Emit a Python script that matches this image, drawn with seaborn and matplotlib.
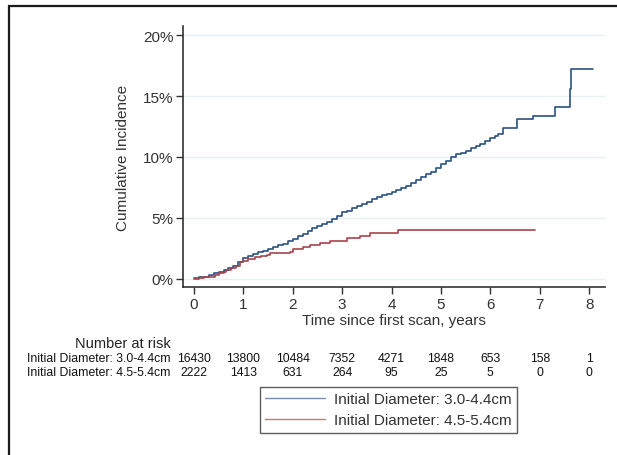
import matplotlib
matplotlib.use('Agg')
import matplotlib.pyplot as plt
import matplotlib.transforms as mtransforms
from matplotlib.patches import Rectangle
import seaborn as sns
import pandas as pd

# Cumulative incidence (%), steps-post
blue_t = [0.0, 0.1, 0.2, 0.3, 0.4, 0.5, 0.6, 0.7, 0.8, 0.9, 1.0, 1.1, 1.2, 1.3, 1.4, 1.5,
          1.6, 1.7, 1.8, 1.9, 2.0, 2.1, 2.2, 2.3, 2.4, 2.5, 2.6, 2.7, 2.8, 2.9, 3.0, 3.1,
          3.2, 3.3, 3.4, 3.5, 3.6, 3.7, 3.8, 3.9, 4.0, 4.1, 4.2, 4.3, 4.4, 4.5, 4.6, 4.7,
          4.8, 4.9, 5.0, 5.1, 5.2, 5.3, 5.4, 5.5, 5.6, 5.7, 5.8, 5.9, 6.0, 6.1, 6.15,
          6.26, 6.54, 6.86, 7.31, 7.62, 7.64, 8.08]
blue_ci = [0.08, 0.12, 0.2, 0.3, 0.45, 0.6, 0.72, 0.9, 1.1, 1.4, 1.7, 1.9, 2.05, 2.18, 2.3,
           2.45, 2.6, 2.75, 2.9, 3.1, 3.3, 3.5, 3.7, 3.95, 4.15, 4.35, 4.5, 4.65, 4.9, 5.2,
           5.45, 5.6, 5.85, 6.0, 6.15, 6.35, 6.55, 6.7, 6.85, 7.0, 7.15, 7.3, 7.45, 7.65,
           7.85, 8.1, 8.35, 8.6, 8.75, 9.1, 9.4, 9.7, 10.0, 10.25, 10.35, 10.5, 10.75,
           10.9, 11.1, 11.35, 11.55, 11.75, 11.9, 12.4, 13.1, 13.4, 14.07, 15.6, 17.2, 17.2]
red_t = [0.0, 0.1, 0.2, 0.32, 0.42, 0.5, 0.6, 0.66, 0.75, 0.85, 0.93, 1.0, 1.1, 1.23, 1.35,
         1.47, 1.54, 1.77, 1.94, 2.0, 2.2, 2.35, 2.55, 2.75, 2.9, 3.09, 3.36, 3.56, 4.13, 6.9]
red_ci = [0.0, 0.05, 0.12, 0.2, 0.35, 0.45, 0.6, 0.75, 0.9, 1.1, 1.35, 1.45, 1.6, 1.8, 1.9,
          1.97, 2.1, 2.15, 2.2, 2.46, 2.6, 2.8, 2.95, 3.1, 3.15, 3.35, 3.55, 3.77, 4.0, 4.0]

groups = ['Initial Diameter: 3.0-4.4cm', 'Initial Diameter: 4.5-5.4cm']
risk_times = [0, 1, 2, 3, 4, 5, 6, 7, 8]
risk_small = ['16430', '13800', '10484', '7352', '4271', '1848', '653', '158', '1']
risk_large = ['2222', '1413', '631', '264', '95', '25', '5', '0', '0']

df = pd.concat([
    pd.DataFrame({'t': blue_t, 'ci': blue_ci, 'group': groups[0]}),
    pd.DataFrame({'t': red_t, 'ci': red_ci, 'group': groups[1]}),
])

sns.set_style('white')
plt.rcParams['font.family'] = ['Liberation Sans', 'DejaVu Sans']

fig = plt.figure(figsize=(6.17, 4.56), dpi=100)
ax = fig.add_axes([183 / 617, 1 - 288 / 456, 422 / 617, 261 / 456])

sns.lineplot(data=df, x='t', y='ci', hue='group', palette=['#2a5283', '#a9434b'],
             drawstyle='steps-post', estimator=None, linewidth=1.2, ax=ax, legend=False)

ax.set_xlim(-0.22, 8.32)
ax.set_ylim(-0.66, 20.74)
ax.set_xticks(range(0, 9))
ax.set_yticks([0, 5, 10, 15, 20])
ax.set_yticklabels(['0%', '5%', '10%', '15%', '20%'])
ax.grid(axis='y', color='#e6eff1', linewidth=1)
ax.tick_params(direction='out', length=5, width=1, color='#333333', labelsize=11,
               labelcolor='#333333', left=True, bottom=True, pad=2)
for s in ['top', 'right']:
    ax.spines[s].set_visible(False)
for s in ['left', 'bottom']:
    ax.spines[s].set_color('#333333')
    ax.spines[s].set_linewidth(1.2)
ax.set_xlabel('Time since first scan, years', fontsize=11, color='#333333', labelpad=2)
ax.set_ylabel('Cumulative Incidence', fontsize=11, color='#333333', labelpad=9)

# Number at risk table
trans = mtransforms.blended_transform_factory(ax.transData, fig.transFigure)
fig.text(123 / 617, 1 - 344 / 456, 'Number at risk', fontsize=10.5, color='#222222',
         ha='center', va='center')
for row_y, label, counts in [(359, groups[0], risk_small), (373, groups[1], risk_large)]:
    fig.text(27 / 617, 1 - row_y / 456, label, fontsize=8.8, ha='left', va='center',
             color='#111111')
    for t, c in zip(risk_times, counts):
        ax.text(t, 1 - row_y / 456, c, transform=trans, fontsize=8.8, ha='center',
                va='center', color='#111111')

# Legend
handles = [plt.Line2D([], [], color='#6f8fb3', lw=1),
           plt.Line2D([], [], color='#c9767c', lw=1)]
fig.legend(handles, groups, loc='upper left', bbox_to_anchor=(260 / 617, 1 - 388 / 456),
           frameon=True, fancybox=False, edgecolor='#333333', fontsize=11,
           handlelength=3.9, handletextpad=0.6, borderaxespad=0, labelspacing=0.45,
           borderpad=0.35, labelcolor='#333333')

# outer frame
fig.patches.append(Rectangle((9 / 617, -0.1), 1.2, 1 - 7 / 456 + 0.1,
                             transform=fig.transFigure, fill=False,
                             edgecolor='#1a1a1a', linewidth=1.6))

fig.savefig('out.png', dpi=100)
